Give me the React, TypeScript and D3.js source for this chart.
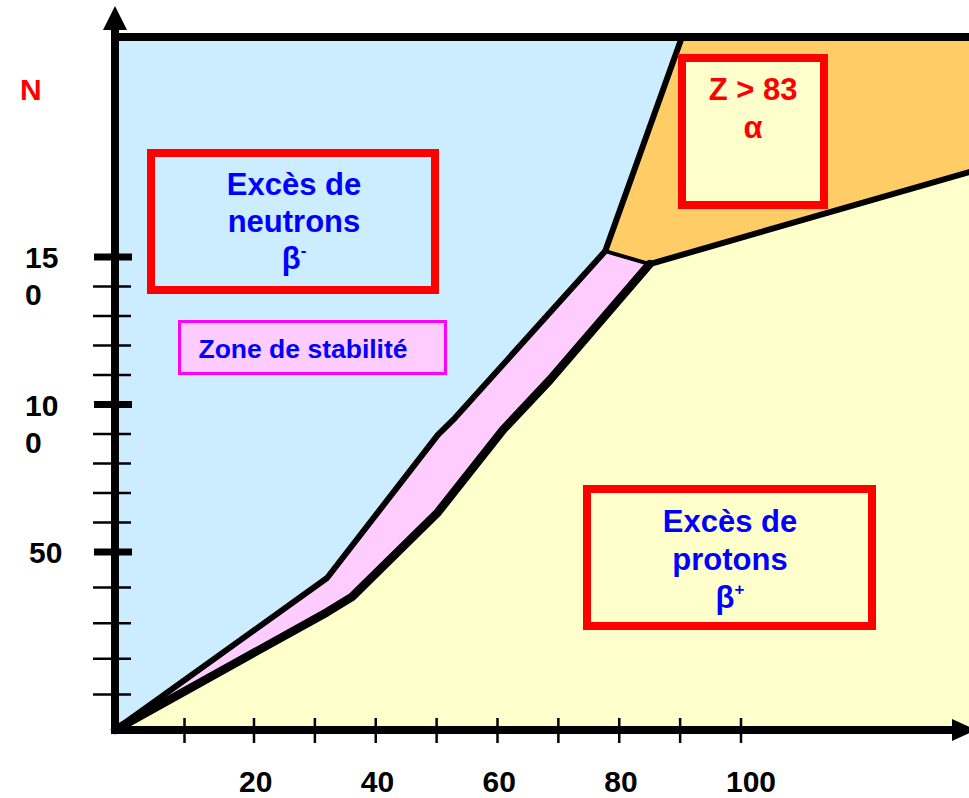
import React, { useEffect, useRef } from 'react';
import * as d3 from 'd3';

// Z (protons) / N (neutrons)
const zExtent = [0, 137.5];
const nExtent = [0, 224.6];
const zTicks = [10, 20, 30, 40, 50, 60, 70, 80, 90, 100];
const zTickLabels = ['20', '40', '60', '80', '100'];
const nMinorTicks = [10, 20, 30, 40, 60, 70, 80, 90, 110, 120, 130, 140];
const nMajorTicks = [50, 100, 150];
const nTickLabels = [['50'], ['10', '0'], ['15', '0']];

// boundary between "excès de neutrons" and the stability band
const upperEdge: Array<[number, number]> = [[0, 0], [32, 42.7], [50.2, 89.7], [53, 95.4], [77.7, 152]];
// boundary between the stability band and "excès de protons"
const lowerEdge: Array<[number, number]> = [[0, 0], [32, 33.1], [36.1, 37.4], [50.1, 63.2], [60.9, 91.4], [68.6, 108.3], [85, 147.6]];
// alpha region (Z > 83)
const alphaLeft: Array<[number, number]> = [[77.7, 152], [90.3, 224.6]];
const alphaLower: Array<[number, number]> = [[85, 147.6], [137.5, 178.8]];

const width = 969;
const height = 798;
const font = '"Liberation Sans", Arial, Helvetica, sans-serif';

export default function App() {
    const ref = useRef(null);

    useEffect(() => {
        const svg = d3.select(ref.current);
        svg.selectAll('*').remove();

        // the hand drawn axes are not evenly spaced near the origin
        const x = d3.scaleLinear().domain([0, 20, 100]).range([115, 254, 741]);
        const y = d3.scaleLinear().domain([0, 50, 150]).range([730, 552, 257]);

        const line = d3.line<[number, number]>()
            .x(d => x(d[0]))
            .y(d => y(d[1]));

        const [z0, z1] = zExtent;
        const [n0, n1] = nExtent;
        const P = upperEdge[upperEdge.length - 1];
        const J = lowerEdge[lowerEdge.length - 1];

        // neutron excess background
        svg.append('rect')
            .attr('x', x(z0)).attr('y', y(n1))
            .attr('width', x(z1) - x(z0)).attr('height', y(n0) - y(n1))
            .attr('fill', '#CCECFF');

        // proton excess
        const yellow: Array<[number, number]> = [...lowerEdge, alphaLower[1], [z1, n0], [z0, n0]];
        svg.append('path').attr('d', line(yellow) + 'Z').attr('fill', '#FFFFCC');

        // stability band
        const pink: Array<[number, number]> = [...upperEdge, ...lowerEdge.slice().reverse()];
        svg.append('path').attr('d', line(pink) + 'Z').attr('fill', '#FFCCFF');

        // alpha
        const orange: Array<[number, number]> = [P, alphaLeft[1], [z1, n1], alphaLower[1], J];
        svg.append('path').attr('d', line(orange) + 'Z').attr('fill', '#FFCC66');

        const edge = (pts: Array<[number, number]>, w: number) => svg.append('path')
            .attr('d', line(pts))
            .attr('fill', 'none')
            .attr('stroke', '#000')
            .attr('stroke-width', w)
            .attr('stroke-linejoin', 'round')
            .attr('stroke-linecap', 'round');
        edge([P, J], 4);
        edge(alphaLeft, 6);
        edge(alphaLower, 6);
        edge(upperEdge, 6);
        edge(lowerEdge, 8.5);

        // top border
        svg.append('line')
            .attr('x1', x(z0)).attr('x2', x(z1))
            .attr('y1', y(n1)).attr('y2', y(n1))
            .attr('stroke', '#000').attr('stroke-width', 8);

        // axes
        svg.append('line')
            .attr('x1', x(z0)).attr('x2', x(z0))
            .attr('y1', y(n0) + 4).attr('y2', 28)
            .attr('stroke', '#000').attr('stroke-width', 8);
        svg.append('path')
            .attr('d', `M${x(z0) - 12},30L${x(z0)},6L${x(z0) + 12},30Z`)
            .attr('fill', '#000');
        svg.append('line')
            .attr('x1', x(z0) - 4).attr('x2', 955)
            .attr('y1', y(n0)).attr('y2', y(n0))
            .attr('stroke', '#000').attr('stroke-width', 8);
        svg.append('path')
            .attr('d', `M952,${y(n0) - 11}L976,${y(n0)}L952,${y(n0) + 11}Z`)
            .attr('fill', '#000');

        // x ticks
        svg.selectAll('line.ztick')
            .data(zTicks)
            .join('line')
            .attr('class', 'ztick')
            .attr('x1', d => x(d)).attr('x2', d => x(d))
            .attr('y1', y(n0) - 12).attr('y2', y(n0) + 13)
            .attr('stroke', '#000').attr('stroke-width', 2.5);
        svg.selectAll('text.zlab')
            .data(zTickLabels)
            .join('text')
            .attr('class', 'zlab')
            .attr('x', d => x(+d) - 15)
            .attr('y', 792)
            .attr('font-family', font).attr('font-weight', 'bold').attr('font-size', 30)
            .attr('fill', '#000')
            .text(d => d);

        // y ticks
        svg.selectAll('line.nminor')
            .data(nMinorTicks)
            .join('line')
            .attr('class', 'nminor')
            .attr('x1', 93).attr('x2', 131)
            .attr('y1', d => y(d)).attr('y2', d => y(d))
            .attr('stroke', '#000').attr('stroke-width', 2.5);
        svg.selectAll('line.nmajor')
            .data(nMajorTicks)
            .join('line')
            .attr('class', 'nmajor')
            .attr('x1', 94).attr('x2', 132)
            .attr('y1', d => y(d)).attr('y2', d => y(d))
            .attr('stroke', '#000').attr('stroke-width', 7);
        nMajorTicks.forEach((v, i) => {
            const lines = nTickLabels[i];
            lines.forEach((s, k) => {
                svg.append('text')
                    .attr('x', lines.length > 1 ? 25 : 29)
                    .attr('y', y(v) + 11 + k * 37)
                    .attr('font-family', font).attr('font-weight', 'bold').attr('font-size', 30)
                    .attr('fill', '#000')
                    .text(s);
            });
        });

        svg.append('text')
            .attr('x', 20).attr('y', 100)
            .attr('font-family', font).attr('font-weight', 'bold').attr('font-size', 30)
            .attr('fill', '#FF0000')
            .text('N');

        // annotation boxes
        const box = (bx: number, by: number, bw: number, bh: number, stroke: string, sw: number, fill: string) =>
            svg.append('rect')
                .attr('x', bx).attr('y', by).attr('width', bw).attr('height', bh)
                .attr('fill', fill).attr('stroke', stroke).attr('stroke-width', sw);

        const label = (cx: number, cy: number, txt: string, color: string, size: number, sup?: string) => {
            const t = svg.append('text')
                .attr('x', cx).attr('y', cy)
                .attr('text-anchor', 'middle')
                .attr('font-family', font).attr('font-weight', 'bold').attr('font-size', size)
                .attr('fill', color)
                .text(txt);
            if (sup) {
                t.append('tspan')
                    .attr('font-size', size * 0.55)
                    .attr('dy', -size * 0.42)
                    .text(sup);
            }
        };

        box(151, 153, 284, 137, '#FF0000', 8, 'none');
        label(294, 195, 'Excès de', '#0000FF', 31);
        label(294, 232, 'neutrons', '#0000FF', 31);
        label(294, 269, 'β', '#0000FF', 31, '-');

        box(179.5, 321.5, 266, 52, '#FF00FF', 3, '#FFCCFF');
        label(303, 358, 'Zone de stabilité', '#0000FF', 26.5);

        box(682, 58, 142, 147, '#FF0000', 8, '#FFFFCC');
        label(753, 100, 'Z > 83', '#FF0000', 31);
        label(753, 138, 'α', '#FF0000', 31);

        box(587, 489, 285, 137, '#FF0000', 8, 'none');
        label(730, 532, 'Excès de', '#0000FF', 31);
        label(730, 570, 'protons', '#0000FF', 31);
        label(730, 608, 'β', '#0000FF', 31, '+');
    }, []);

    return (
        <svg ref={ref} width={width} height={height} viewBox={`0 0 ${width} ${height}`}
            style={{ position: 'absolute', left: 0, top: 0, display: 'block', background: '#fff' }}>
        </svg>
    );
}
